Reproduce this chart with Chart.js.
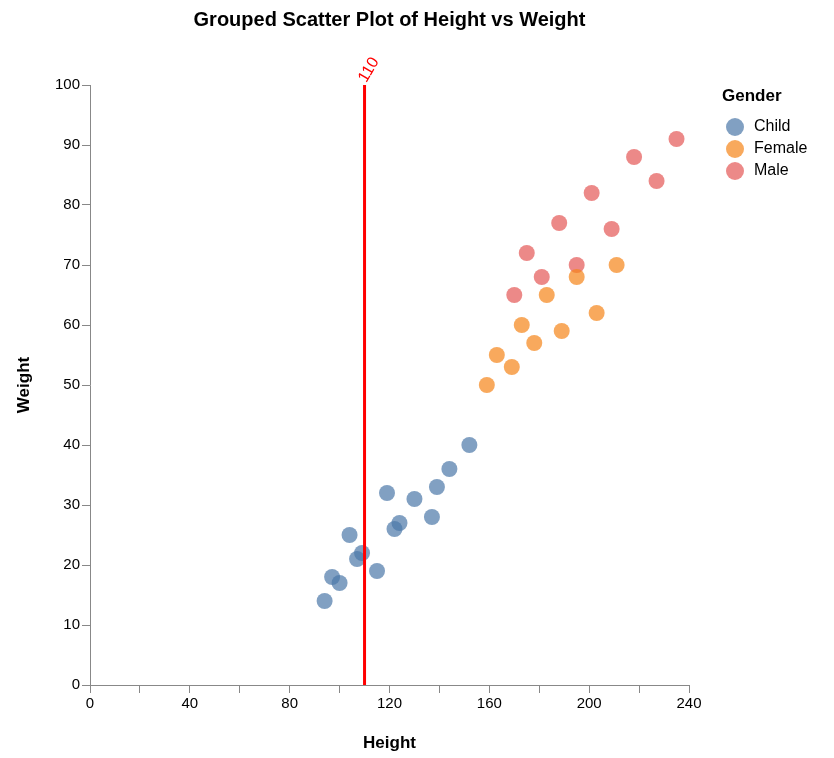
<!DOCTYPE html>
<html><head>
<script src="https://cdn.jsdelivr.net/npm/chart.js@4"></script>
<style>html,body{margin:0;background:#fff}#wrap{width:834px;height:758px}</style>
</head><body><div id="wrap"><canvas id="c"></canvas></div>
<script>
var groups = ["Child", "Female", "Male"];
var colors = ["rgba(76,120,168,0.7)", "rgba(245,133,24,0.7)", "rgba(228,87,86,0.7)"];
var childHeight = [94, 97, 100, 104, 107, 109, 115, 119, 122, 124, 130, 137, 139, 144, 152];
var childWeight = [14, 18, 17, 25, 21, 22, 19, 32, 26, 27, 31, 28, 33, 36, 40];
var femaleHeight = [159, 163, 169, 173, 178, 183, 189, 195, 203, 211];
var femaleWeight = [50, 55, 53, 60, 57, 65, 59, 68, 62, 70];
var maleHeight = [170, 175, 181, 188, 195, 201, 209, 218, 227, 235];
var maleWeight = [65, 72, 68, 77, 70, 82, 76, 88, 84, 91];
var refLine = 110;

Chart.defaults.font.family = "Liberation Sans";
Chart.defaults.color = "#000";

function pts(xs, ys) { return xs.map(function (x, i) { return {x: x, y: ys[i]}; }); }
var series = [pts(childHeight, childWeight), pts(femaleHeight, femaleWeight), pts(maleHeight, maleWeight)];

// red reference line, title and legend drawn by hand
var extras = {
  id: "extras",
  afterDatasetsDraw: function (chart) {
    var ctx = chart.ctx, x = chart.scales.x.getPixelForValue(refLine), a = chart.chartArea;
    ctx.save();
    ctx.strokeStyle = "red"; ctx.lineWidth = 3;
    ctx.beginPath(); ctx.moveTo(x, a.top); ctx.lineTo(x, a.bottom); ctx.stroke();
    ctx.save();
    ctx.translate(x - 2, a.top - 4); ctx.rotate(-Math.PI / 3);
    ctx.fillStyle = "red"; ctx.font = "16px Liberation Sans";
    ctx.textBaseline = "middle"; ctx.fillText(String(refLine), 0, 0);
    ctx.restore();

    ctx.fillStyle = "#000"; ctx.textAlign = "center"; ctx.textBaseline = "middle";
    ctx.font = "bold 20px Liberation Sans";
    ctx.fillText("Grouped Scatter Plot of Height vs Weight", (a.left + a.right) / 2, 20);

    ctx.textAlign = "left";
    ctx.font = "bold 17px Liberation Sans";
    ctx.fillText("Gender", 722, 96);
    ctx.font = "16px Liberation Sans";
    groups.forEach(function (g, i) {
      var y = 127 + i * 22;
      ctx.fillStyle = colors[i];
      ctx.beginPath(); ctx.arc(735, y, 9, 0, Math.PI * 2); ctx.fill();
      ctx.fillStyle = "#000";
      ctx.fillText(g, 754, y);
    });
    ctx.restore();
  }
};

new Chart(document.getElementById("c"), {
  type: "scatter",
  data: {
    datasets: groups.map(function (g, i) {
      return {label: g, data: series[i], backgroundColor: colors[i], borderWidth: 0, pointRadius: 8, pointHoverRadius: 8};
    })
  },
  options: {
    animation: false, responsive: true, maintainAspectRatio: false,
    layout: {padding: {top: 85, right: 145, left: 10, bottom: 0}},
    plugins: {legend: {display: false}, tooltip: {enabled: false}},
    scales: {
      x: {min: 0, max: 240,
        afterFit: function (s) { s.height = 73; },
        grid: {display: true, drawOnChartArea: false, tickLength: 8, color: "#888"},
        border: {color: "#888"},
        ticks: {stepSize: 20, font: {size: 15}, autoSkip: false, maxRotation: 0, padding: 2,
          callback: function (v) { return v % 40 === 0 ? v : ""; }},
        title: {display: true, text: "Height", font: {size: 17, weight: "bold"}, padding: {top: 2}}},
      y: {min: 0, max: 100,
        afterFit: function (s) { s.width = 80; },
        grid: {display: true, drawOnChartArea: false, tickLength: 8, color: "#888"},
        border: {color: "#888"},
        ticks: {stepSize: 10, font: {size: 15}, padding: 2},
        title: {display: true, text: "Weight", font: {size: 17, weight: "bold"}}}
    }
  },
  plugins: [extras]
});
</script></body></html>
